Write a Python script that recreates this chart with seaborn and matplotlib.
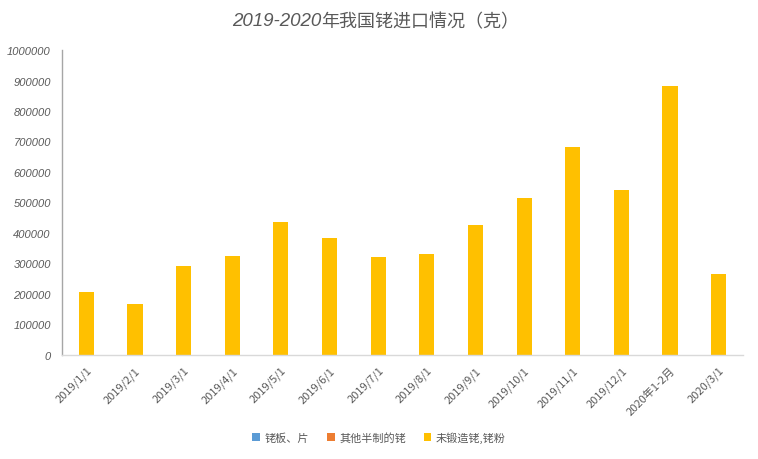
import matplotlib
matplotlib.use("Agg")
import matplotlib.pyplot as plt
import seaborn as sns
import pandas as pd
import numpy as np

categories = ["2019/1/1", "2019/2/1", "2019/3/1", "2019/4/1", "2019/5/1", "2019/6/1",
              "2019/7/1", "2019/8/1", "2019/9/1", "2019/10/1", "2019/11/1", "2019/12/1",
              "2020年1-2月", "2020/3/1"]
series_names = ["铑板、片", "其他半制的铑", "未锻造铑,铑粉"]
plate_values = [0] * 14
semi_values = [0] * 14
unwrought_values = [208000, 167000, 292000, 325000, 436000, 384000, 322000, 332000,
                    427000, 515000, 683000, 542000, 883000, 266000]
colors = ["#5B9BD5", "#ED7D31", "#FFC000"]
yticks = list(range(0, 1000001, 100000))

sns.set_theme(style="white")
plt.rcParams['font.family'] = ['Noto Sans CJK SC', 'DejaVu Sans']

df = pd.DataFrame({
    "cat": categories * 3,
    "series": [series_names[0]] * 14 + [series_names[1]] * 14 + [series_names[2]] * 14,
    "value": plate_values + semi_values + unwrought_values,
})

fig = plt.figure(figsize=(7.58, 4.60), dpi=100)
ax = fig.add_axes([62/758, 1 - 356/460, (743-62)/758, (356-51)/460])

sns.barplot(data=df, x="cat", y="value", hue="series", hue_order=series_names,
            palette=colors, dodge=False, width=0.31, linewidth=0, ax=ax,
            legend=True, errorbar=None, saturation=1)

ax.set_xlim(-0.5, len(categories) - 0.5)
ax.set_ylim(0, 1000000)
ax.set_yticks(yticks)
ax.set_yticklabels([str(v) for v in yticks], fontsize=8, color="#595959",
                   style="italic", family=["Liberation Sans", "DejaVu Sans"])
ax.set_xlabel("")
ax.set_ylabel("")

ax.set_xticks(range(len(categories)))
ax.set_xticklabels(categories, rotation=45, ha="right", rotation_mode="anchor",
                   fontsize=8, color="#595959")
ax.set_xticks(np.arange(-0.5, len(categories) + 0.5, 1), minor=True)
ax.tick_params(axis="x", which="major", length=0, pad=7)
ax.tick_params(axis="x", which="minor", length=4, color="#D9D9D9", width=1, direction="out")
ax.tick_params(axis="y", which="major", length=4, color="#A6A6A6", width=1, direction="in", pad=8)

for s in ["top", "right"]:
    ax.spines[s].set_visible(False)
ax.spines["left"].set_color("#A6A6A6")
ax.spines["bottom"].set_color("#D9D9D9")
ax.spines["left"].set_linewidth(1)
ax.spines["bottom"].set_linewidth(1)
ax.grid(False)

leg = ax.legend(loc="center", bbox_to_anchor=(0.5, 1 - 438/460), bbox_transform=fig.transFigure,
                ncol=3, frameon=False, fontsize=8, handlelength=0.7, handleheight=0.7,
                handletextpad=0.4, columnspacing=1.6)
for t in leg.get_texts():
    t.set_color("#595959")

fig.text(321/758, 1 - 22/460, "2019-2020", ha="right", va="center", fontsize=13.5,
         style="italic", color="#595959", family=["Liberation Sans", "DejaVu Sans"])
fig.text(321/758, 1 - 22/460, "年我国铑进口情况（克）", ha="left", va="center", fontsize=13,
         color="#595959")

fig.savefig("out.png", dpi=100)
